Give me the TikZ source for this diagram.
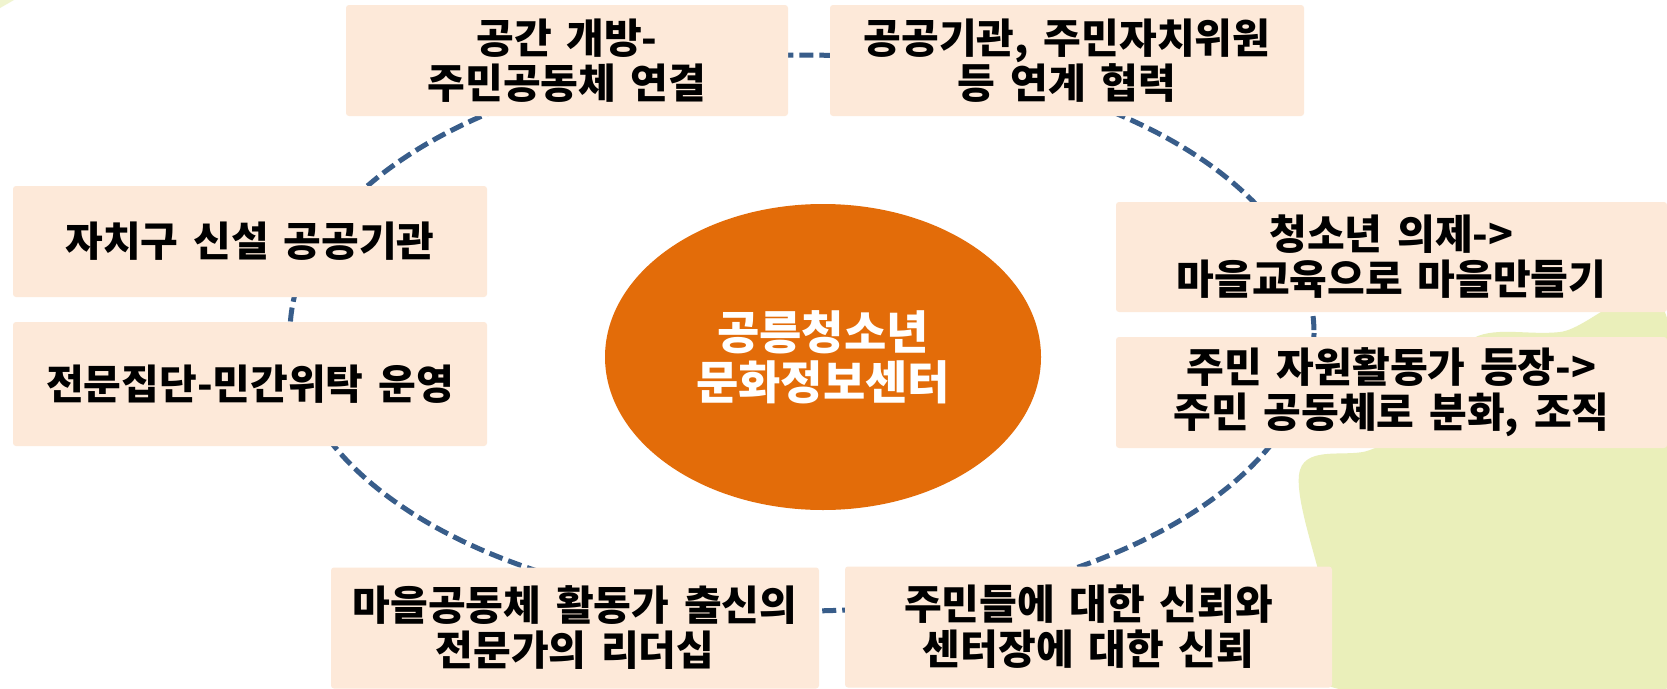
\documentclass[tikz,border=0pt]{standalone}
\usepackage{fontspec}
\setmainfont{Noto Sans CJK KR}
\usetikzlibrary{shapes.geometric}
\definecolor{peach}{HTML}{FDE9D9}
\definecolor{ringblue}{RGB}{56,93,138}
\definecolor{centerorange}{HTML}{E36C09}
\definecolor{washgreen}{HTML}{EAEFBA}
\newcommand{\boxfont}{\fontsize{41}{45}\selectfont\bfseries\spaceskip=0.36em plus 0.05em\relax}
\tikzset{
  box/.style={rectangle, rounded corners=3pt, fill=peach, draw=none, align=center,
    font=\boxfont, text=black, inner sep=0pt},
  ring/.style={draw=ringblue, line width=5pt, dash pattern=on 14pt off 6pt},
  hub/.style={ellipse, fill=centerorange, draw=none, align=center, text=white,
    font=\fontsize{46}{50}\selectfont\bfseries, inner sep=0pt}
}
\begin{document}
\begin{tikzpicture}[x=1pt,y=-1pt]
\useasboundingbox[fill=white] (0,0) rectangle (1667,688);
% background wash
\fill[washgreen] plot[smooth cycle, tension=0.6] coordinates {(1300,470) (1370,450) (1425,420) (1470,340) (1560,332) (1667,318) (1667,688) (1335,688) (1325,600)};
\fill[washgreen!70] (0,0) -- (14,0) -- (0,8) -- cycle;
% ring
\coordinate (ringc) at (802,333);
\draw[ring] (ringc) ellipse [x radius=512, y radius=278];
% hub
\node[hub, minimum width=436, minimum height=306] (hubnode) at (823,357) {공릉청소년\\문화정보센터};
% boxes
\node[box, minimum width=442, minimum height=111] (b1) at (567,60.5) {공간 개방-\\주민공동체 연결};
\node[box, minimum width=474, minimum height=111] (b2) at (1067,60.5) {공공기관, 주민자치위원\\등 연계 협력};
\node[box, minimum width=474, minimum height=111] (b3) at (250,241.5) {자치구 신설 공공기관};
\node[box, minimum width=474, minimum height=124] (b4) at (250,384) {전문집단-민간위탁 운영};
\node[box, minimum width=551, minimum height=110] (b5) at (1391.5,257) {청소년 의제->\\마을교육으로 마을만들기};
\node[box, minimum width=551, minimum height=111] (b6) at (1391.5,392.5) {주민 자원활동가 등장->\\주민 공동체로 분화, 조직};
\node[box, minimum width=488, minimum height=121] (b7) at (575,628) {마을공동체 활동가 출신의\\전문가의 리더십};
\node[box, minimum width=487, minimum height=121] (b8) at (1088.5,627) {주민들에 대한 신뢰와\\센터장에 대한 신뢰};
\end{tikzpicture}
\end{document}
